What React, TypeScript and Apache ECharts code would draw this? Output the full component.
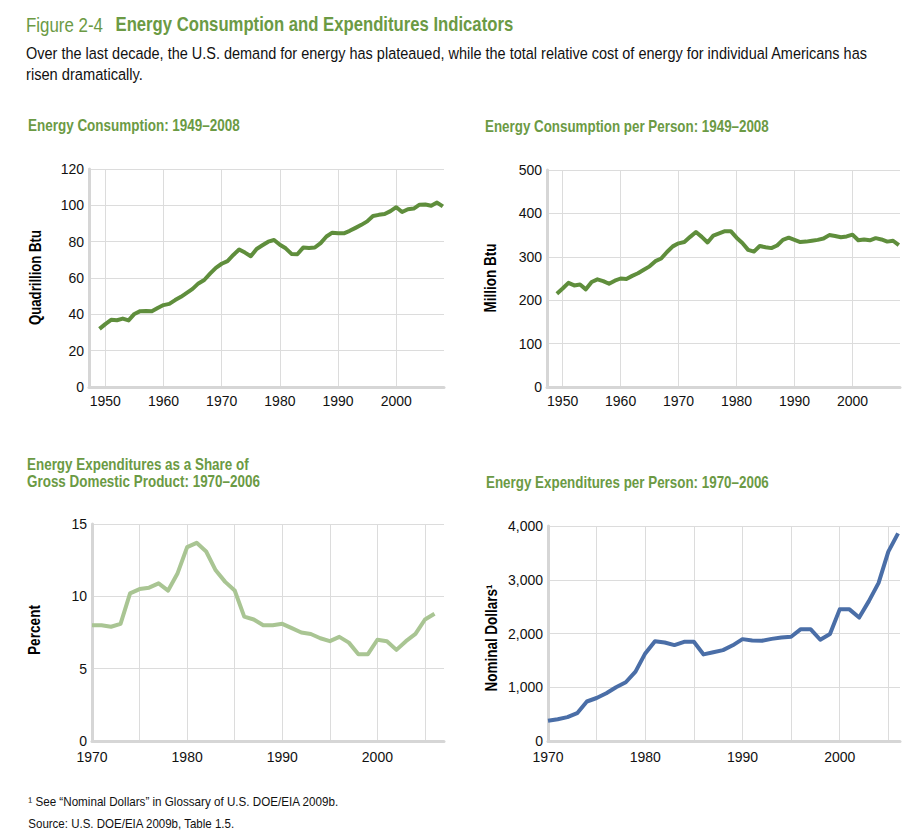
import React, { useEffect, useRef } from 'react';
import * as echarts from 'echarts';

const FONT = "'Liberation Sans', Arial, sans-serif";

const figureLabel = 'Figure 2-4';
const figureTitle = 'Energy Consumption and Expenditures Indicators';
const subtitleLines = [
  'Over the last decade, the U.S. demand for energy has plateaued, while the total relative cost of energy for individual Americans has',
  'risen dramatically.',
];
const footnotes = [
  '\u00b9 See \u201cNominal Dollars\u201d in Glossary of U.S. DOE/EIA 2009b.',
  'Source: U.S. DOE/EIA 2009b, Table 1.5.',
];

const panelTitles = [
  'Energy Consumption: 1949\u20132008',
  'Energy Consumption per Person: 1949\u20132008',
  'Energy Expenditures as a Share of\nGross Domestic Product: 1970\u20132006',
  'Energy Expenditures per Person: 1970\u20132006',
];
const yNames = ['Quadrillion Btu', 'Million Btu', 'Percent', 'Nominal Dollars\u00b9'];

// 1949–2008, quadrillion Btu
const consumptionStart = 1949;
const consumption = [
  31.98, 34.62, 36.97, 36.75, 37.66, 36.64, 40.21, 41.75, 41.79, 41.65,
  43.47, 45.09, 45.74, 47.83, 49.65, 51.82, 54.02, 57.02, 58.91, 62.42,
  65.62, 67.84, 69.29, 72.7, 75.71, 73.99, 71.97, 75.98, 78.0, 79.99,
  80.9, 78.29, 76.34, 73.25, 73.1, 76.74, 76.47, 76.78, 79.23, 82.87,
  84.96, 84.67, 84.61, 85.96, 87.6, 89.26, 91.17, 94.17, 94.76, 95.18,
  96.82, 98.97, 96.33, 97.86, 98.21, 100.35, 100.49, 99.79, 101.53, 99.4,
];
// 1949–2008, million Btu per person
const perPerson = [
  215, 227, 240, 234, 236, 225, 242, 248, 244, 238,
  245, 250, 249, 256, 262, 270, 278, 290, 296, 311,
  324, 331, 334, 346, 357, 346, 333, 349, 354, 359,
  359, 344, 332, 316, 312, 325, 322, 320, 326, 339,
  344, 339, 334, 335, 337, 339, 342, 350, 348, 345,
  347, 351, 338, 340, 338, 343, 340, 335, 337, 327,
];
// 1970–2006
const expenditureStart = 1970;
const shareOfGdp = [
  8.0, 8.0, 7.9, 8.1, 10.2, 10.5, 10.6, 10.9, 10.4, 11.6,
  13.4, 13.7, 13.1, 11.8, 11.0, 10.4, 8.6, 8.4, 8.0, 8.0,
  8.1, 7.8, 7.5, 7.4, 7.1, 6.9, 7.2, 6.8, 6.0, 6.0,
  7.0, 6.9, 6.3, 6.9, 7.4, 8.4, 8.8,
];
const dollarsPerPerson = [
  376, 405, 444, 518, 735, 800, 889, 1000, 1093, 1290,
  1630, 1857, 1833, 1784, 1845, 1845, 1611, 1650, 1691, 1780,
  1895, 1870, 1865, 1900, 1925, 1940, 2081, 2081, 1884, 1989,
  2449, 2449, 2296, 2602, 2941, 3523, 3862,
];

const GREEN_TEXT = '#6b9a44';
const GREEN_LINE = '#5f8e3c';
const LIGHT_GREEN = '#a9c593';
const BLUE = '#4a6ea7';
const AXIS_GRAY = '#d6d6d6';
const GRID_GRAY = '#dcdcdc';

const pairs = (start: number, vals: number[]) => vals.map((v, i) => [start + i, v]);

let measureCtx: CanvasRenderingContext2D | null = null;
function textWidth(text: string, weight: string, size: number) {
  if (!measureCtx) measureCtx = document.createElement('canvas').getContext('2d');
  measureCtx!.font = `${weight} ${size}px ${FONT}`;
  return Math.max(...text.split('\n').map((t) => measureCtx!.measureText(t).width));
}

export default function App() {
  const ref = useRef<HTMLDivElement>(null);
  useEffect(() => {
    document.body.style.margin = '0';
    const chart = echarts.init(ref.current!, null, { renderer: 'svg' });

    const grids = [
      { left: 89, top: 169, width: 355, height: 218 },
      { left: 547, top: 170, width: 353, height: 217 },
      { left: 92, top: 524, width: 352, height: 217 },
      { left: 548, top: 526, width: 352, height: 215 },
    ];

    const labelFmt = (v: number) => (Number.isInteger(v) && v % 10 === 0 ? String(v) : '');
    const xBase = (i: number, min: number, max: number, step: number, margin: number) => ({
      type: 'value',
      gridIndex: i,
      min,
      max,
      minInterval: step,
      maxInterval: step,
      axisLine: { show: true, onZero: false, lineStyle: { color: AXIS_GRAY, width: 3 } },
      axisTick: { show: false },
      axisLabel: {
        formatter: labelFmt,
        color: '#111',
        fontFamily: FONT,
        fontSize: 14,
        margin,
      },
      splitLine: { show: true, showMinLine: false, showMaxLine: false, lineStyle: { color: GRID_GRAY, width: 1 } },
    });
    const yBase = (i: number, max: number, interval: number, comma = false) => ({
      type: 'value',
      gridIndex: i,
      min: 0,
      max,
      interval,
      axisLine: { show: true, lineStyle: { color: AXIS_GRAY, width: 3 } },
      axisTick: { show: false },
      axisLabel: {
        color: '#111',
        fontFamily: FONT,
        fontSize: 14,
        margin: 5,
        formatter: (v: number) => (comma ? v.toLocaleString('en-US') : String(v)),
      },
      splitLine: { show: true, lineStyle: { color: GRID_GRAY, width: 1 } },
    });

    const lineSeries = (i: number, data: number[][], color: string) => ({
      type: 'line',
      xAxisIndex: i,
      yAxisIndex: i,
      data,
      showSymbol: false,
      symbol: 'none',
      lineStyle: { color, width: 4, join: 'round' },
      z: 5,
    });

    // text squeezed horizontally to the reference's condensed width
    const fitText = (
      x: number,
      y: number,
      text: string,
      target: number,
      opts: { size: number; weight?: string; fill?: string; lineHeight?: number; rotate?: boolean }
    ) => {
      const weight = opts.weight || 'normal';
      const w = textWidth(text, weight, opts.size);
      return {
        type: 'text',
        x,
        y,
        scaleX: target / w,
        rotation: opts.rotate ? Math.PI / 2 : 0,
        style: {
          text,
          fill: opts.fill || '#111',
          fontFamily: FONT,
          fontWeight: weight,
          fontSize: opts.size,
          lineHeight: opts.lineHeight,
          align: opts.rotate ? 'center' : 'left',
          verticalAlign: 'middle',
        },
      };
    };

    chart.setOption({
      animation: false,
      grid: grids,
      xAxis: [
        xBase(0, 1947.2, 2008.2, 10, 7),
        xBase(1, 1947.3, 2008.2, 10, 7),
        xBase(2, 1970, 2007, 5, 9),
        xBase(3, 1970, 2006.2, 5, 9),
      ],
      yAxis: [
        yBase(0, 120, 20),
        yBase(1, 500, 100),
        yBase(2, 15, 5),
        yBase(3, 4000, 1000, true),
      ],
      series: [
        lineSeries(0, pairs(consumptionStart, consumption), GREEN_LINE),
        lineSeries(1, pairs(consumptionStart, perPerson), GREEN_LINE),
        lineSeries(2, pairs(expenditureStart, shareOfGdp), LIGHT_GREEN),
        lineSeries(3, pairs(expenditureStart, dollarsPerPerson), BLUE),
      ],
      graphic: [
        fitText(26, 25, figureLabel, 77, { size: 19.5, fill: GREEN_TEXT }),
        fitText(115.5, 25, figureTitle, 398, { size: 19.5, weight: 'bold', fill: GREEN_TEXT }),
        fitText(26, 53, subtitleLines[0], 842, { size: 16.5 }),
        fitText(26, 74, subtitleLines[1], 117, { size: 16.5 }),
        fitText(28, 126, panelTitles[0], 212, { size: 16, weight: 'bold', fill: GREEN_TEXT }),
        fitText(485, 127, panelTitles[1], 284, { size: 16, weight: 'bold', fill: GREEN_TEXT }),
        fitText(27, 473.5, panelTitles[2], 233, { size: 16, weight: 'bold', fill: GREEN_TEXT, lineHeight: 17 }),
        fitText(486, 483, panelTitles[3], 283, { size: 16, weight: 'bold', fill: GREEN_TEXT }),
        fitText(35.7, 277.5, yNames[0], 95, { size: 16, weight: 'bold', fill: '#000', rotate: true }),
        fitText(490.7, 278, yNames[1], 69, { size: 16, weight: 'bold', fill: '#000', rotate: true }),
        fitText(35, 630, yNames[2], 50, { size: 16, weight: 'bold', fill: '#000', rotate: true }),
        fitText(491.7, 638, yNames[3], 107, { size: 16, weight: 'bold', fill: '#000', rotate: true }),
        fitText(28.3, 802, footnotes[0], 311, { size: 13 }),
        fitText(28.3, 824, footnotes[1], 207, { size: 13 }),
      ],
    });
    return () => chart.dispose();
  }, []);
  return <div ref={ref} style={{ width: 924, height: 840 }} />;
}
